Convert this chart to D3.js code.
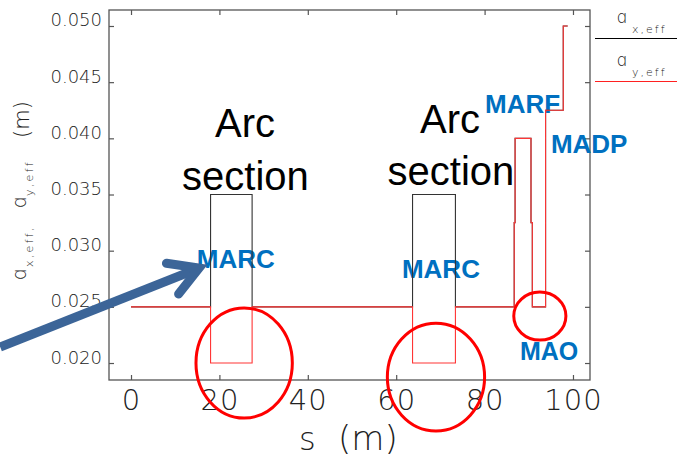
<!DOCTYPE html>
<html>
<head>
<meta charset="utf-8">
<script src="https://cdn.jsdelivr.net/npm/d3@7"></script>
<style>
  html, body { margin: 0; padding: 0; background: #fff; }
  svg { display: block; }
</style>
</head>
<body>
<svg id="chart" width="677" height="457"></svg>
<script>
// ---- data ----
const sBounds = [0, 18.0, 27.4, 63.7, 73.4, 86.7, 86.9, 90.5, 90.8, 93.8, 97.8, 98.8];
const axEff   = [0.025, 0.035, 0.025, 0.035, 0.025, 0.0325, 0.040, 0.0325, 0.025, 0.0425, 0.050];
const ayEff   = [0.025, 0.020, 0.025, 0.020, 0.025, 0.0325, 0.040, 0.0325, 0.025, 0.0425, 0.050];
const xTicks  = [0, 20, 40, 60, 80, 100];
const yTicks  = [0.020, 0.025, 0.030, 0.035, 0.040, 0.045, 0.050];
const yTickLabels = ["0.020", "0.025", "0.030", "0.035", "0.040", "0.045", "0.050"];

// annotations (data coordinates)
const arcTexts = [
  { s: 25.8, v: 0.04011, t: "Arc" },
  { s: 25.9, v: 0.03539, t: "section" },
  { s: 72.2, v: 0.04046, t: "Arc" },
  { s: 72.4, v: 0.03584, t: "section" }
];
const magnetLabels = [
  { s: 14.9, v: 0.02845, t: "MARC", size: 26 },
  { s: 61.3, v: 0.02756, t: "MARC", size: 26 },
  { s: 80.1, v: 0.04224, t: "MARF", size: 26 },
  { s: 95.0, v: 0.03868, t: "MADP", size: 26 },
  { s: 88.0, v: 0.02027, t: "MAO",  size: 25 }
];
const ellipses = [
  { s: 25.6, v: 0.0200,  rs: 10.9, rv: 0.0049 },
  { s: 69.0, v: 0.01875, rs: 11.0, rv: 0.0048 },
  { s: 92.5, v: 0.02418, rs: 5.9,  rv: 0.00214 }
];
const arrowFrom = { s: -29.6, v: 0.02142 };
const arrowTo   = { s: 15.4,  v: 0.02845 };

// ---- layout ----
const L = 109, R = 590, T = 10, B = 380;
const svg = d3.select("#chart");
const x = d3.scaleLinear().domain([-4.98, 103.85]).range([L, R]);
const y = d3.scaleLinear().domain([0.018488, 0.051424]).range([B, T]);

const tickFont = "'DejaVu Sans', sans-serif";
const axisColor = "#555";
const textColor = "#222";

// frame
svg.append("rect").attr("x", L).attr("y", T).attr("width", R - L).attr("height", B - T)
  .attr("fill", "none").attr("stroke", axisColor).attr("stroke-width", 1.3);

// axes (inward ticks)
const gx = svg.append("g").attr("transform", `translate(0,${B})`)
  .call(d3.axisBottom(x).tickValues(xTicks).tickSizeInner(-5).tickSizeOuter(0).tickPadding(0));
gx.selectAll("text").attr("y", 30).attr("dy", 0).attr("letter-spacing", 1)
  .attr("font-family", tickFont).attr("font-weight", 200).attr("font-size", 29).attr("fill", textColor);
const gxt = svg.append("g").attr("transform", `translate(0,${T})`)
  .call(d3.axisTop(x).tickValues(xTicks).tickSizeInner(-5).tickSizeOuter(0).tickFormat(""));
const gy = svg.append("g").attr("transform", `translate(${L},0)`)
  .call(d3.axisLeft(y).tickValues(yTicks).tickFormat((d, i) => yTickLabels[i]).tickSizeInner(-5).tickSizeOuter(0).tickPadding(7));
gy.selectAll("text").attr("dy", 0)
  .attr("font-family", tickFont).attr("font-weight", 200).attr("font-size", 18).attr("fill", textColor);
const gyr = svg.append("g").attr("transform", `translate(${R},0)`)
  .call(d3.axisRight(y).tickValues(yTicks).tickSizeInner(-5).tickSizeOuter(0).tickFormat(""));
[gx, gxt, gy, gyr].forEach(g => {
  g.select(".domain").remove();
  g.selectAll(".tick line").attr("stroke", axisColor).attr("stroke-width", 1.2);
});

// axis titles
const xt = svg.append("text").attr("y", 450)
  .attr("font-family", tickFont).attr("font-weight", 200).attr("fill", textColor);
xt.append("tspan").attr("x", 299).attr("font-size", 32).text("s");
xt.append("tspan").attr("x", 338).attr("font-size", 34).text("(m)");

const yt = svg.append("text").attr("transform", "translate(26,281) rotate(-90)")
  .attr("font-family", tickFont).attr("font-weight", 200).attr("fill", textColor);
yt.append("tspan").attr("x", 0).attr("y", 0).attr("font-size", 19).text("ɑ");
yt.append("tspan").attr("x", 14).attr("y", 7).attr("font-size", 11).attr("letter-spacing", 2.3).text("x,eff,");
yt.append("tspan").attr("x", 72).attr("y", 0).attr("font-size", 19).text("ɑ");
yt.append("tspan").attr("x", 85).attr("y", 7).attr("font-size", 11).attr("letter-spacing", 2.3).text("y,eff");
yt.append("tspan").attr("x", 143).attr("y", 3).attr("font-size", 21).text("(m)");

// annotation texts (under the lines)
svg.selectAll("text.arc").data(arcTexts).join("text").attr("class", "arc")
  .attr("x", d => x(d.s)).attr("y", d => y(d.v)).attr("text-anchor", "middle")
  .attr("font-family", "'Liberation Sans', Arial, sans-serif").attr("font-size", 40).attr("fill", "#000")
  .text(d => d.t);
svg.selectAll("text.mag").data(magnetLabels).join("text").attr("class", "mag")
  .attr("x", d => x(d.s)).attr("y", d => y(d.v))
  .attr("font-family", "'Liberation Sans', Arial, sans-serif").attr("font-weight", "bold")
  .attr("font-size", d => d.size).attr("fill", "#0070C0")
  .text(d => d.t);

// step series
function stepPoints(vals) {
  const pts = [];
  vals.forEach((v, i) => { pts.push([sBounds[i], v]); pts.push([sBounds[i + 1], v]); });
  return pts;
}
const line = d3.line().x(d => x(d[0])).y(d => y(d[1]));
svg.append("path").attr("d", line(stepPoints(axEff)))
  .attr("fill", "none").attr("stroke", "#333").attr("stroke-width", 1.1);
svg.append("path").attr("d", line(stepPoints(ayEff)))
  .attr("fill", "none").attr("stroke", "#ff3535").attr("stroke-width", 1.1);

// legend
const lg = [
  { sub: "x,eff", color: "#000", base: 23, lineY: 38.5 },
  { sub: "y,eff", color: "#ff2020", base: 66, lineY: 81.5 }
];
lg.forEach(d => {
  const t = svg.append("text").attr("font-family", tickFont).attr("font-weight", 200).attr("fill", textColor);
  t.append("tspan").attr("x", 616).attr("y", d.base).attr("font-size", 17).text("ɑ");
  t.append("tspan").attr("x", 632).attr("y", d.base + 10).attr("font-size", 11).attr("letter-spacing", 2).text(d.sub);
  svg.append("line").attr("x1", 595).attr("x2", 677).attr("y1", d.lineY).attr("y2", d.lineY)
    .attr("stroke", d.color).attr("stroke-width", 1.2);
});

// ellipses
svg.selectAll("ellipse.hl").data(ellipses).join("ellipse").attr("class", "hl")
  .attr("cx", d => x(d.s)).attr("cy", d => y(d.v))
  .attr("rx", d => x(d.s + d.rs) - x(d.s)).attr("ry", d => y(d.v - d.rv) - y(d.v))
  .attr("fill", "none").attr("stroke", "#ff0000").attr("stroke-width", 3);

// arrow
const ax0 = x(arrowFrom.s), ay0 = y(arrowFrom.v), ax1 = x(arrowTo.s), ay1 = y(arrowTo.v);
const len = Math.hypot(ax1 - ax0, ay1 - ay0);
const bx = (ax0 - ax1) / len, by = (ay0 - ay1) / len;
const armLen = 33, ang = 30 * Math.PI / 180;
function rot(vx, vy, a) { return [vx * Math.cos(a) - vy * Math.sin(a), vx * Math.sin(a) + vy * Math.cos(a)]; }
const a1 = rot(bx, by, ang), a2 = rot(bx, by, -ang);
const arrowColor = "#3c6598";
svg.append("line").attr("x1", ax0).attr("y1", ay0).attr("x2", ax1 + bx * 3).attr("y2", ay1 + by * 3)
  .attr("stroke", arrowColor).attr("stroke-width", 9);
svg.append("path")
  .attr("d", `M${ax1 + a1[0] * armLen},${ay1 + a1[1] * armLen} L${ax1},${ay1} L${ax1 + a2[0] * armLen},${ay1 + a2[1] * armLen}`)
  .attr("fill", "none").attr("stroke", arrowColor).attr("stroke-width", 9)
  .attr("stroke-linecap", "round").attr("stroke-linejoin", "miter");
</script>
</body>
</html>
